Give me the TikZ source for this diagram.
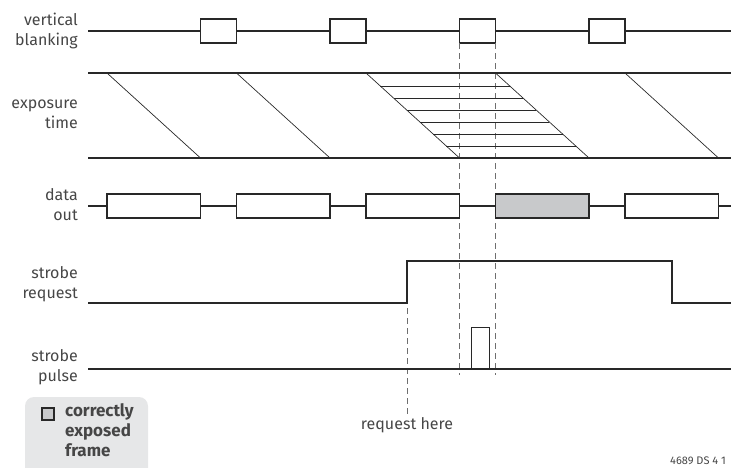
\documentclass[tikz,border=0pt]{standalone}
\usepackage{fontspec}
\setmainfont{Fira Sans}
\usetikzlibrary{positioning}
\definecolor{sigblack}{RGB}{40, 40, 40}
\definecolor{txtgray}{RGB}{70, 70, 70}
\definecolor{framegray}{RGB}{200, 201, 203}
\definecolor{leggray}{RGB}{230, 231, 232}
\definecolor{guidegray}{RGB}{110, 110, 110}

\begin{document}
\begin{tikzpicture}[
  x=1pt, y=-1pt,
  sig/.style={draw=sigblack, line width=1.2pt},
  thinsig/.style={draw=sigblack, line width=0.7pt},
  vbbox/.style={draw=sigblack, fill=white, line width=1.2pt, minimum width=36pt, minimum height=24pt, inner sep=0pt, outer sep=0pt},
  dbox/.style={draw=sigblack, fill=white, line width=1.2pt, minimum width=93.5pt, minimum height=24pt, inner sep=0pt, outer sep=0pt},
  guide/.style={draw=guidegray, line width=0.8pt, dash pattern=on 6pt off 4pt},
  lbl/.style={font=\fontsize{16}{20}\selectfont, text=txtgray, align=right, anchor=east, inner sep=0pt}
]
  \useasboundingbox (0,0) rectangle (731,467);
  \clip (0,0) rectangle (731,467);

  % signal names
  \node[lbl] (vbl) at (78,30.5) {vertical\\blanking};
  \node[lbl] (expl) at (78,114.5) {exposure\\time};
  \node[lbl] (datl) at (78,205) {data\\out};
  \node[lbl] (reql) at (78,284) {strobe\\request};
  \node[lbl] (pull) at (78,367.5) {strobe\\pulse};

  % guides
  \coordinate (gl) at (459.5,375);
  \coordinate (gr) at (495.5,375);
  \coordinate (req) at (407,308);
  \node[font=\fontsize{16}{20}\selectfont, text=txtgray, inner sep=2pt] (reqtxt) at (407,425) {request here};

  % vertical blanking
  \draw[sig] (88,31) -- (731,31);
  \foreach \k in {1,...,4}
    \node[vbbox] (vb\k) at ({89+129.5*\k},31) {};

  \draw[guide] (vb3.south west) -- (gl);
  \draw[guide] (vb3.south east) -- (gr);
  \draw[guide] (req) -- (reqtxt.north);

  % exposure time
  \draw[sig, line width=1.6pt] (88,73) -- (731,73);
  \draw[sig] (88,158) -- (731,158);
  \foreach \k in {0,...,4}
    \draw[thinsig] ({107+129.5*\k},73) -- ({200.5+129.5*\k},158);
  \foreach \i in {1,...,6}
    \draw[thinsig] ({366+1.1*(1+12*\i)},{74+12*\i}) -- ({495.5+1.1*(1+12*\i)},{74+12*\i});

  % data out
  \draw[sig] (88,206) -- (731,206);
  \foreach \k/\f in {0/white,1/white,2/white,3/framegray,4/white}
    \node[dbox, fill=\f] (d\k) at ({153.75+129.5*\k},206) {};

  % strobe request
  \draw[sig] (88,303) -- (407,303) -- (407,261) -- (672,261) -- (672,303) -- (731,303);

  % strobe pulse
  \draw[sig] (88,369) -- (731,369);
  \node[draw=sigblack, line width=1pt, minimum width=18pt, minimum height=42pt, inner sep=0pt, outer sep=0pt, anchor=south west] (pulse) at (471,369) {};

  % legend
  \fill[leggray, rounded corners=9pt] (25,397) rectangle (148,480);
  \node[draw=sigblack, fill=framegray, line width=1.1pt, minimum size=12pt, inner sep=0pt] (chk) at (48,414) {};
  \node[font=\fontsize{17}{20}\selectfont\bfseries, text=txtgray, align=left, anchor=north west, inner sep=0pt] (legtxt) at (65,403) {correctly\\exposed\\frame};

  \node[font=\fontsize{11}{12}\selectfont, text=txtgray, anchor=west, inner sep=0pt] (docid) at (670,461) {4689 DS 4 1};
\end{tikzpicture}
\end{document}
